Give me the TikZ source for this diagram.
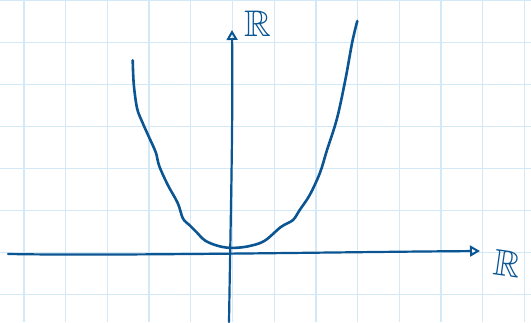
\documentclass[tikz,border=0pt]{standalone}
\usepackage{amsmath,amssymb}
\usepackage{xcolor}
\definecolor{inkBlue}{HTML}{0B5593}
\definecolor{paperGrid}{HTML}{D3E9F8}
\usepackage{tikz}
\usetikzlibrary{arrows.meta, positioning}

\begin{document}
\begin{tikzpicture}[
    x=1pt, y=-1pt,
    gridline/.style={draw=paperGrid, line width=1.3pt},
    axis/.style ={draw=inkBlue, line width=2.2pt, line cap=round,
                  -{Triangle[open, length=10pt, width=11pt, line width=2pt]}},
    curve/.style={draw=inkBlue, line width=2.6pt, line cap=round, line join=round},
    setlabel/.style={text=inkBlue, font=\fontsize{37}{37}\selectfont, inner sep=0pt}
]
\useasboundingbox (0,0) rectangle (531,322);
\fill[white] (0,0) rectangle (531,322);

% squared paper
\foreach \gx in {0,...,12}
    \draw[gridline] ({24+41.7*\gx},0) -- ({24+41.7*\gx},322);
\foreach \gy in {0,...,7}
    \draw[gridline] (0,{0.5+42*\gy}) -- (531,{0.5+42*\gy});

% axes
\coordinate (xstart) at (8,254);
\coordinate (xend) at (480,251);
\coordinate (ystart) at (229,322);
\coordinate (yend) at (232,30);
\node[setlabel] (ylabel) at (258,24) {$\mathbb{R}$};
\node[setlabel, rotate=-8] (xlabel) at (508,264) {$\mathbb{R}$};

\draw[axis] (xstart) .. controls (118,256) and (338,252) .. (xend);
\draw[axis] (ystart) .. controls (231,200) and (233,120) .. (yend);

% the function
\draw[curve] plot[smooth, tension=0.55] coordinates {
    (132.7,60.3) (133.8,84.7) (137.1,108.4) (142.2,121.9) (149,137.1)
    (155.8,152.4) (159.2,165.9) (167.6,184.6) (177.8,203.2) (182.9,218.4)
    (189.6,225.2) (196.4,232) (204.9,240.4) (216.7,245.5) (230.3,247.9)
    (247.2,246.5) (264.1,241.1) (281,226.9) (292.9,220.1) (299.7,210)
    (309.9,194.7) (320,172.7) (326.8,150.7) (337,118.5) (345.4,79.6)
    (352.2,42.3) (357.3,21)};
\end{tikzpicture}
\end{document}
